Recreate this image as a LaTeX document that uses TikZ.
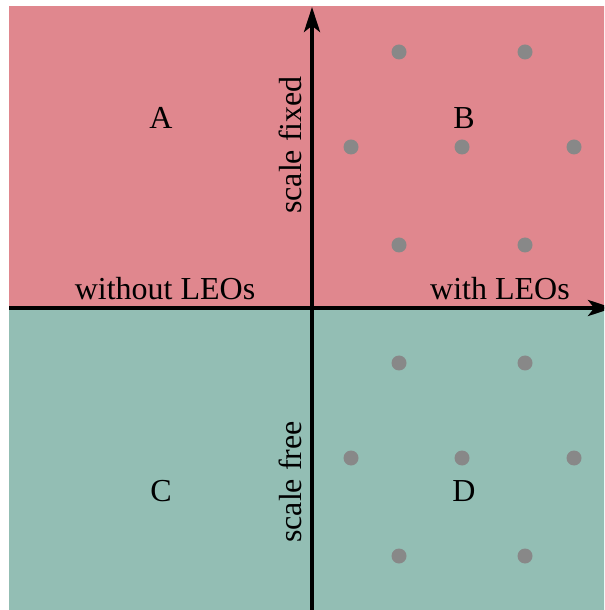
\documentclass[tikz,border=0pt]{standalone}
\usepackage{fontspec}
\setmainfont{Liberation Serif}
\usetikzlibrary{arrows.meta}
\definecolor{fixedred}{RGB}{224,135,142}
\definecolor{freegreen}{RGB}{147,190,180}
\definecolor{dotgray}{RGB}{136,136,136}
\begin{document}
\begin{tikzpicture}[x=0.4pt,y=-0.4pt,
  lbl/.style={font=\fontsize{12.8}{15}\selectfont, inner sep=0pt},
  site/.style={circle, fill=dotgray, minimum size=6pt, inner sep=0pt},
  axis/.style={line width=1.6pt, -{Stealth[length=10pt,width=6.4pt,inset=2.5pt]}}]
\useasboundingbox (0,0) rectangle (604,610);
\clip (0,0) rectangle (604,610);
% quadrants
\fill[fixedred] (9,6) rectangle (620,308);
\fill[freegreen] (9,308) rectangle (620,620);
% lattice of sites
\foreach \y/\n in {0/t, 311/b}{
  \foreach \x/\yy/\k in {399/52/1, 525/52/2, 351/147/3, 462/147/4, 574/147/5, 399/245/6, 525/245/7}
    \node[site] (s\n\k) at (\x,\yy+\y) {};
}
% axes
\coordinate (xs) at (9,308);
\coordinate (xe) at (613,308);
\coordinate (ys) at (312,612);
\coordinate (ye) at (312,7);
\draw[axis] (xs) -- (xe);
\draw[axis] (ys) -- (ye);
% labels
\node[lbl] (qa) at (161,118) {A};
\node[lbl] (qb) at (464,118) {B};
\node[lbl] (qc) at (161,491) {C};
\node[lbl] (qd) at (464,491) {D};
\node[lbl] (wo) at (165,289) {without LEOs};
\node[lbl] (wi) at (500,289) {with LEOs};
\node[lbl, rotate=90] (sfx) at (290,145) {scale fixed};
\node[lbl, rotate=90] (sfr) at (290,482) {scale free};
\end{tikzpicture}
\end{document}
